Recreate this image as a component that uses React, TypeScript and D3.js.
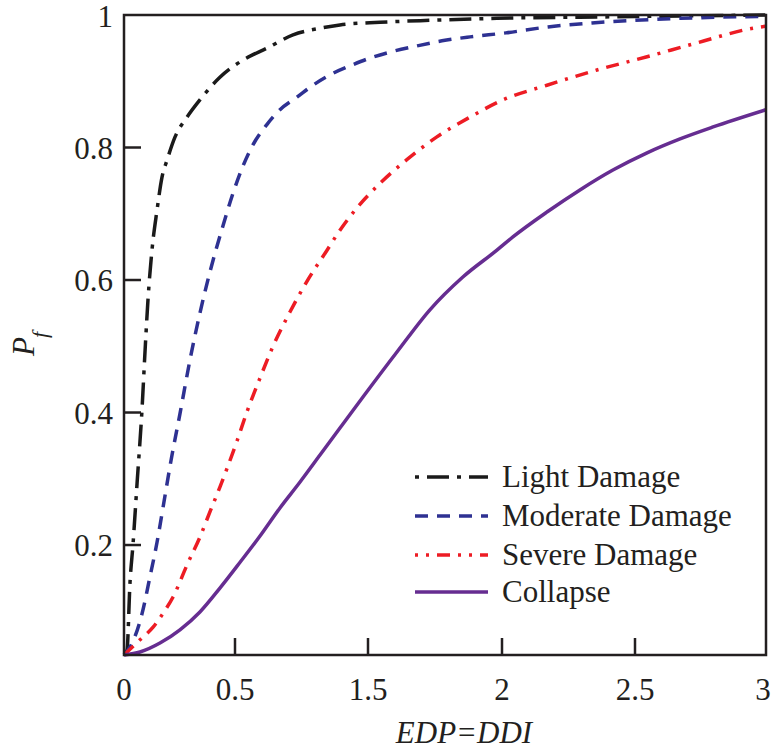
import React from "react";
import * as d3 from "d3";

const xTickValues = [0, 0.5, 1.5, 2, 2.5, 3];
const xTickLabels = ["0", "0.5", "1.5", "2", "2.5", "3"];
const yTickValues = [0.2, 0.4, 0.6, 0.8, 1];
const yTickLabels = ["0.2", "0.4", "0.6", "0.8", "1"];

const lightX = [0, 0.0135, 0.027, 0.041, 0.059, 0.081, 0.095, 0.108, 0.126, 0.149, 0.171, 0.194, 0.23, 0.284, 0.342, 0.432, 0.56, 0.741, 0.936, 1.139, 1.289, 1.545, 1.731, 1.981, 2.357, 3];
const lightY = [0.034, 0.0415, 0.143, 0.203, 0.294, 0.404, 0.494, 0.57, 0.645, 0.706, 0.755, 0.781, 0.816, 0.846, 0.872, 0.906, 0.932, 0.95, 0.97, 0.98, 0.985, 0.989, 0.992, 0.995, 0.997, 1.0];

const moderateX = [0, 0.041, 0.081, 0.117, 0.149, 0.176, 0.212, 0.252, 0.297, 0.342, 0.387, 0.446, 0.491, 0.56, 0.635, 0.741, 0.838, 0.966, 1.086, 1.237, 1.38, 1.507, 1.582, 1.679, 1.776, 1.881, 2.015, 2.173, 2.338, 2.5, 2.672, 3];
const moderateY = [0.034, 0.055, 0.096, 0.152, 0.2045, 0.257, 0.328, 0.398, 0.479, 0.55, 0.612, 0.682, 0.731, 0.772, 0.804, 0.835, 0.857, 0.876, 0.894, 0.912, 0.9245, 0.935, 0.944, 0.953, 0.961, 0.967, 0.973, 0.982, 0.988, 0.992, 0.995, 0.998];

const severeX = [0, 0.072, 0.131, 0.176, 0.221, 0.284, 0.342, 0.387, 0.432, 0.515, 0.59, 0.688, 0.786, 0.914, 1.041, 1.192, 1.275, 1.417, 1.545, 1.646, 1.757, 1.881, 2.004, 2.169, 2.357, 2.546, 2.737, 2.95, 3];
const severeY = [0.034, 0.057, 0.076, 0.097, 0.1215, 0.17, 0.212, 0.25, 0.2875, 0.357, 0.401, 0.452, 0.5, 0.552, 0.598, 0.645, 0.671, 0.709, 0.746, 0.782, 0.816, 0.846, 0.872, 0.894, 0.917, 0.937, 0.958, 0.98, 0.983];

const collapseX = [0, 0.072, 0.162, 0.252, 0.342, 0.432, 0.538, 0.688, 0.838, 0.989, 1.139, 1.289, 1.462, 1.608, 1.731, 1.854, 1.981, 2.041, 2.169, 2.293, 2.417, 2.546, 2.672, 2.798, 3];
const collapseY = [0.034, 0.0385, 0.052, 0.072, 0.099, 0.135, 0.174, 0.2136, 0.256, 0.2951, 0.3358, 0.3766, 0.4234, 0.4913, 0.555, 0.6045, 0.645, 0.665, 0.7026, 0.736, 0.766, 0.792, 0.813, 0.831, 0.857];

const seriesNames = ["Light Damage", "Moderate Damage", "Severe Damage", "Collapse"];
const seriesColors = ["#1a1a1a", "#2e3192", "#ed1c24", "#662d91"];
const seriesDash = ["22 8 4 8", "13 9", "13 8 3 8", "none"];

const X_BREAKS = [124, 235, 368, 502, 635, 766];
const TOP = 15;
const BOTTOM = 655;
const LEFT = 124;
const RIGHT = 766;
const FONT = "'Liberation Serif', 'Times New Roman', serif";
const TEXT_COLOR = "#231f20";

export default function App() {
  const x = d3.scaleLinear().domain(xTickValues).range(X_BREAKS);
  const y = d3.scaleLinear().domain([0.034, 1]).range([BOTTOM, TOP]);

  const series = [
    { xs: lightX, ys: lightY },
    { xs: moderateX, ys: moderateY },
    { xs: severeX, ys: severeY },
    { xs: collapseX, ys: collapseY },
  ];

  const line = d3
    .line<[number, number]>()
    .x((d) => x(d[0]))
    .y((d) => y(d[1]))
    .curve(d3.curveMonotoneX);

  const legendY = [477, 516, 555, 592];

  return (
    <svg
      width={772}
      height={750}
      style={{ position: "absolute", left: 0, top: 0, display: "block", background: "#fff" }}
    >
      <rect x={0} y={0} width={772} height={750} fill="#fff" />
      {series.map((s, i) => {
        const pts: [number, number][] = s.xs.map((v, k) => [v, s.ys[k]]);
        return (
          <path
            key={i}
            d={line(pts) || ""}
            fill="none"
            stroke={seriesColors[i]}
            strokeWidth={3.5}
            strokeDasharray={seriesDash[i]}
          />
        );
      })}
      <rect
        x={LEFT}
        y={TOP}
        width={RIGHT - LEFT}
        height={BOTTOM - TOP}
        fill="none"
        stroke={TEXT_COLOR}
        strokeWidth={2.5}
      />
      {xTickValues.map((v, i) => (
        <g key={"xt" + i}>
          {i > 0 && i < xTickValues.length - 1 && (
            <line x1={x(v)} x2={x(v)} y1={BOTTOM} y2={BOTTOM - 17} stroke={TEXT_COLOR} strokeWidth={2.5} />
          )}
          <text
            x={x(v)}
            dx={i === xTickValues.length - 1 ? -3 : 0}
            y={700}
            textAnchor="middle"
            fontFamily={FONT}
            fontSize={31}
            fill={TEXT_COLOR}
          >
            {xTickLabels[i]}
          </text>
        </g>
      ))}
      {yTickValues.map((v, i) => (
        <g key={"yt" + i}>
          {v < 1 && (
            <line x1={LEFT} x2={LEFT + 17} y1={y(v)} y2={y(v)} stroke={TEXT_COLOR} strokeWidth={2.5} />
          )}
          <text
            x={113}
            y={y(v) + 11}
            dy={v === 1 ? 1 : 0}
            textAnchor="end"
            fontFamily={FONT}
            fontSize={31}
            fill={TEXT_COLOR}
          >
            {yTickLabels[i]}
          </text>
        </g>
      ))}
      <text
        x={464}
        y={743}
        textAnchor="middle"
        fontFamily={FONT}
        fontStyle="italic"
        fontSize={31}
        fill={TEXT_COLOR}
      >
        EDP=DDI
      </text>
      <text
        transform="translate(34,356) rotate(-90)"
        fontFamily={FONT}
        fontStyle="italic"
        fontSize={31}
        fill={TEXT_COLOR}
      >
        <tspan>P</tspan>
        <tspan fontSize={22} dy={13} dx={-1}>f</tspan>
      </text>
      {seriesNames.map((name, i) => (
        <g key={"lg" + i}>
          <line
            x1={415}
            x2={488}
            y1={legendY[i]}
            y2={legendY[i]}
            stroke={seriesColors[i]}
            strokeWidth={3.5}
            strokeDasharray={i === 0 ? "4 8 22 8" : i === 2 ? "3 8 3 8 13 8" : seriesDash[i]}
          />
          <text
            x={502}
            y={legendY[i] + 10}
            fontFamily={FONT}
            fontSize={31}
            fill={TEXT_COLOR}
          >
            {name}
          </text>
        </g>
      ))}
    </svg>
  );
}
